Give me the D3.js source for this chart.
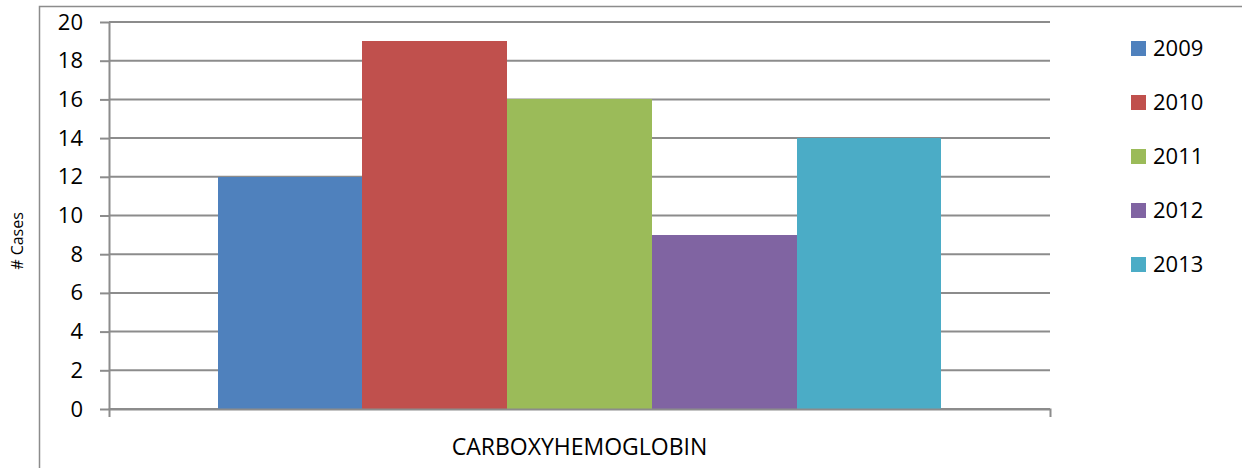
<!DOCTYPE html>
<html>
<head>
<meta charset="utf-8">
<script src="https://cdn.jsdelivr.net/npm/d3@7"></script>
<style>
  body { margin: 0; background: #fff; }
  svg { display: block; font-family: "Open Sans", sans-serif; }
  .axis text { fill: #000; }
</style>
</head>
<body>
<div id="chart"></div>
<script>
// data
var categories = ["CARBOXYHEMOGLOBIN"];
var years = ["2009", "2010", "2011", "2012", "2013"];
var cases = [12, 19, 16, 9, 14];
var yTicks = [0, 2, 4, 6, 8, 10, 12, 14, 16, 18, 20];
var colors = ["#4F81BD", "#C0504D", "#9BBB59", "#8064A2", "#4BACC6"];

var W = 1242, H = 468;
var margin = {top: 22, left: 109, right: 192, bottom: 59};
var width = W - margin.left - margin.right,
    height = H - margin.top - margin.bottom;

var svg = d3.select("#chart").append("svg")
    .attr("width", W)
    .attr("height", H);

// outer chart frame (only top and left edges fall inside the picture)
svg.append("path")
    .attr("d", "M39.5," + H + "V6.5H" + W)
    .attr("fill", "none")
    .attr("stroke", "#8c8c8c")
    .attr("stroke-width", 1.5);

var g = svg.append("g")
    .attr("transform", "translate(" + margin.left + "," + margin.top + ")");

var x0 = d3.scaleBand()
    .domain(categories)
    .range([0, width]);

var x1 = d3.scaleBand()
    .domain(years)
    .range([0, x0.bandwidth()])
    .paddingInner(0)
    .paddingOuter(0.75);

var y = d3.scaleLinear()
    .domain([0, 20])
    .range([height, 0]);

// gridlines
g.selectAll(".grid")
    .data(yTicks)
  .enter().append("line")
    .attr("class", "grid")
    .attr("x1", 0)
    .attr("x2", width)
    .attr("y1", function(d) { return y(d); })
    .attr("y2", function(d) { return y(d); })
    .attr("stroke", "#8c8c8c")
    .attr("stroke-width", 2);

// bars
var cat = g.selectAll(".cat")
    .data(categories)
  .enter().append("g")
    .attr("class", "cat")
    .attr("transform", function(d) { return "translate(" + x0(d) + ",0)"; });

cat.selectAll("rect")
    .data(years.map(function(yr, i) { return {year: yr, value: cases[i], color: colors[i]}; }))
  .enter().append("rect")
    .attr("x", function(d) { return x1(d.year); })
    .attr("width", x1.bandwidth())
    .attr("y", function(d) { return y(d.value); })
    .attr("height", function(d) { return height - y(d.value); })
    .attr("fill", function(d) { return d.color; })
    .attr("shape-rendering", "crispEdges");

// y axis
var yAxis = g.append("g")
    .attr("class", "axis")
    .call(d3.axisLeft(y).tickValues(yTicks).tickSizeInner(9).tickSizeOuter(0).tickPadding(17));
yAxis.selectAll("line, path").attr("stroke", "#8c8c8c").attr("stroke-width", 2);
yAxis.selectAll("text")
    .attr("font-size", 22)
    .attr("font-family", "Open Sans, sans-serif");

// x axis
var xAxis = g.append("g")
    .attr("class", "axis")
    .attr("transform", "translate(0," + height + ")")
    .call(d3.axisBottom(x0).tickSizeInner(0).tickSizeOuter(8));
xAxis.select(".domain").attr("stroke", "#8c8c8c").attr("stroke-width", 2);
xAxis.selectAll("text")
    .attr("y", 38)
    .attr("dy", "0.35em")
    .attr("font-size", 23)
    .attr("font-family", "Open Sans, sans-serif");

// y label
svg.append("text")
    .attr("transform", "translate(23,241) rotate(-90)")
    .attr("text-anchor", "middle")
    .attr("font-size", 16)
    .text("# Cases");

// legend
var legend = svg.selectAll(".legend")
    .data(years)
  .enter().append("g")
    .attr("class", "legend")
    .attr("transform", function(d, i) { return "translate(1131," + (48.5 + i * 54) + ")"; });

legend.append("rect")
    .attr("x", 0)
    .attr("y", -7.5)
    .attr("width", 15)
    .attr("height", 15)
    .attr("fill", function(d, i) { return colors[i]; });

legend.append("text")
    .attr("x", 22)
    .attr("dy", "0.35em")
    .attr("font-size", 22)
    .text(function(d) { return d; });
</script>
</body>
</html>
